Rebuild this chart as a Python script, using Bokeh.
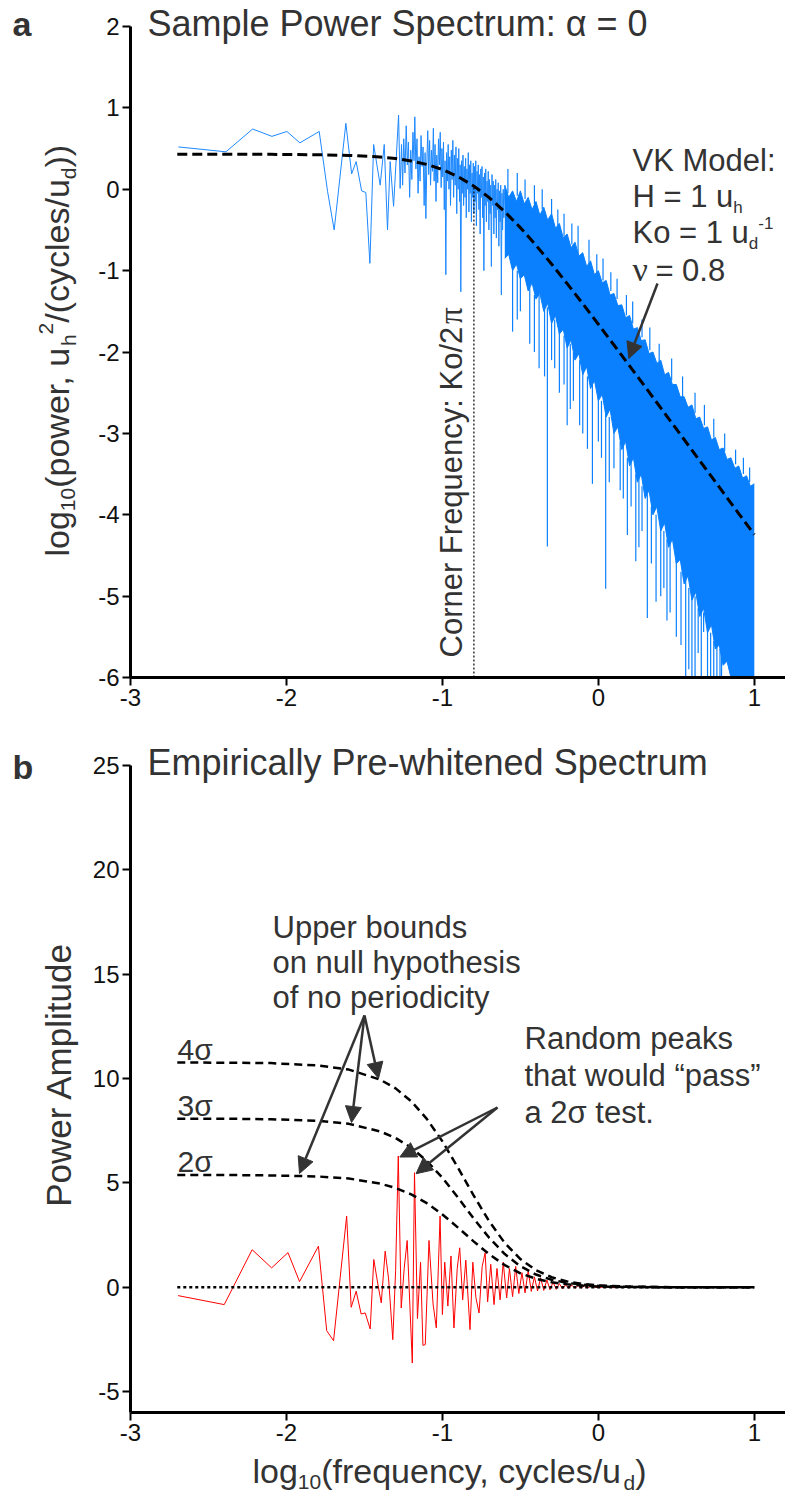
import math
from bokeh.plotting import figure
from bokeh.models import Label, Arrow, NormalHead, LinearAxis, FixedTicker, Range1d
from bokeh.layouts import column
from bokeh.embed import file_html
from bokeh.resources import INLINE

# ---------------- DATA : panel a (sample power spectrum, log10 f vs log10 power) ----------------
spec_x = [-2.693, -2.388, -2.217, -2.093, -1.997, -1.914, -1.790, -1.736, -1.694, -1.619,
          -1.582, -1.553, -1.518, -1.491, -1.465, -1.441, -1.399, -1.373, -1.352, -1.335,
          -1.313, -1.281, -1.271, -1.262, -1.255, -1.248, -1.240, -1.232, -1.225, -1.218,
          -1.210, -1.203, -1.196, -1.189, -1.182, -1.177, -1.170, -1.163, -1.156, -1.150,
          -1.143, -1.137, -1.130, -1.124, -1.117, -1.111, -1.106, -1.100, -1.094, -1.088,
          -1.082, -1.076, -1.070, -1.064, -1.058, -1.053, -1.047, -1.041, -1.036, -1.030,
          -1.025, -1.019, -1.014, -1.008, -1.003, -0.998, -0.993, -0.988, -0.983, -0.978,
          -0.973, -0.968, -0.963, -0.958, -0.953, -0.948, -0.943, -0.938, -0.933, -0.928,
          -0.923, -0.918, -0.913, -0.908, -0.904, -0.899, -0.895, -0.890, -0.886, -0.882,
          -0.877, -0.873, -0.868, -0.864, -0.860, -0.855, -0.851, -0.847, -0.843, -0.838,
          -0.834, -0.830, -0.826, -0.822, -0.818, -0.814, -0.810, -0.806, -0.802, -0.798,
          -0.794, -0.790, -0.786, -0.782, -0.778, -0.774, -0.770, -0.766, -0.762, -0.758,
          -0.754, -0.750, -0.746, -0.742, -0.738, -0.734, -0.730, -0.726, -0.722, -0.718,
          -0.714, -0.710, -0.706, -0.702, -0.698, -0.694, -0.690, -0.686, -0.682, -0.678,
          -0.674, -0.670, -0.666, -0.662, -0.658, -0.654, -0.650, -0.646, -0.642, -0.638,
          -0.634, -0.630, -0.626, -0.622, -0.618, -0.614, -0.610, -0.606, -0.602]
spec_y = [0.52, 0.46, 0.74, 0.65, 0.71, 0.57, 0.71, -0.03, -0.50, 0.81,
          0.19, 0.34, -0.02, -0.04, -0.91, 0.55, 0.05, 0.55, -0.50, 0.34,
          -0.21, 0.91, 0.01, 0.55, 0.05, 0.62, 0.20, 0.78, 0.30, 0.58,
          -0.10, 0.48, 0.12, 0.70, 0.35, 0.89, 0.25, 0.62, -0.05, 0.40,
          0.10, 0.66, 0.28, 0.52, -0.20, 0.45, -0.36, 0.30, 0.72, 0.18,
          0.60, 0.05, 0.48, 0.22, 0.75, 0.10, 0.55, -0.15, 0.42, 0.08,
          0.62, 0.30, 0.70, 0.02, 0.50, 0.15, 0.58, -0.25, 0.35, -1.05,
          0.45, 0.10, 0.55, 0.00, 0.40, -0.20, 0.48, 0.12, 0.60, -0.10,
          0.42, 0.05, 0.52, -0.30, 0.38, 0.00, 0.50, -0.15, 0.30, -1.26,
          0.35, -0.05, 0.42, -0.20, 0.28, -0.10, 0.38, -0.35, 0.25, 0.00,
          0.45, -0.28, 0.30, -0.05, 0.35, -0.40, 0.20, -0.10, 0.32, -0.30,
          0.28, -0.15, 0.35, -0.45, 0.22, -0.05, 0.30, -0.25, 0.18, -0.55,
          0.25, -0.10, 0.28, -0.35, 0.15, -1.00, 0.20, -0.20, 0.25, -0.40,
          0.10, -0.15, 0.22, -0.50, 0.12, -0.30, 0.05, -0.95, 0.18, -0.20,
          0.10, -0.55, 0.05, -0.35, 0.12, -0.60, 0.00, -0.25, 0.08, -0.70,
          -0.02, -0.40, 0.05, -1.30, -0.05, -0.50, 0.00, -0.35, -0.08]

# dense high-frequency part: upper / lower edge of the filled trace
band_x = [-0.600, -0.575, -0.550, -0.525, -0.500, -0.475, -0.450, -0.425, -0.400, -0.375,
          -0.350, -0.325, -0.300, -0.275, -0.250, -0.225, -0.200, -0.175, -0.150, -0.125,
          -0.100, -0.075, -0.050, -0.025, 0.000, 0.025, 0.050, 0.075, 0.100, 0.125,
          0.150, 0.175, 0.200, 0.225, 0.250, 0.275, 0.300, 0.325, 0.350, 0.375,
          0.400, 0.425, 0.450, 0.475, 0.500, 0.525, 0.550, 0.575, 0.600, 0.625,
          0.650, 0.675, 0.700, 0.725, 0.750, 0.775, 0.800, 0.825, 0.850, 0.875,
          0.900, 0.925, 0.950, 0.975, 1.000]
band_hi = [0.05, -0.10, -0.02, -0.15, -0.02, -0.18, -0.10, -0.25, -0.15, -0.32,
           -0.22, -0.38, -0.30, -0.48, -0.42, -0.60, -0.55, -0.72, -0.65, -0.82,
           -0.78, -0.95, -0.88, -1.05, -1.00, -1.15, -1.12, -1.30, -1.28, -1.43,
           -1.42, -1.58, -1.55, -1.72, -1.70, -1.86, -1.85, -2.02, -2.00, -2.14,
           -2.10, -2.28, -2.25, -2.40, -2.40, -2.55, -2.55, -2.68, -2.65, -2.82,
           -2.80, -2.94, -2.92, -3.08, -3.05, -3.20, -3.18, -3.32, -3.30, -3.43,
           -3.40, -3.55, -3.52, -3.65, -3.62]
band_lo = [-0.85, -0.80, -1.00, -0.92, -1.10, -1.05, -1.25, -1.15, -1.35, -1.28,
           -1.50, -1.40, -1.65, -1.55, -1.78, -1.72, -1.95, -1.85, -2.10, -2.02,
           -2.28, -2.18, -2.45, -2.35, -2.60, -2.52, -2.80, -2.70, -3.00, -2.92,
           -3.20, -3.10, -3.40, -3.30, -3.60, -3.50, -3.80, -3.70, -4.00, -3.90,
           -4.20, -4.10, -4.40, -4.30, -4.60, -4.55, -4.85, -4.75, -5.05, -4.95,
           -5.25, -5.15, -5.45, -5.35, -5.65, -5.60, -5.85, -5.80, -6.00, -6.00,
           -6.00, -6.00, -6.00, -6.00, -6.00]

# downward spikes below the dense trace
spike_x = [-0.55, -0.52, -0.50, -0.44, -0.41, -0.38, -0.345, -0.327, -0.30, -0.28,
           -0.25, -0.22, -0.20, -0.18, -0.16, -0.12, -0.10, -0.07, -0.038, 0.00,
           0.02, 0.047, 0.07, 0.10, 0.14, 0.16, 0.186, 0.21, 0.24, 0.26,
           0.28, 0.314, 0.34, 0.37, 0.40, 0.42, 0.44, 0.46, 0.50, 0.53,
           0.56, 0.58, 0.60, 0.62, 0.64, 0.66, 0.675, 0.70, 0.72, 0.74,
           0.76, 0.78, 0.79]
spike_top = [-0.95, -1.00, -1.05, -1.20, -1.30, -1.30, -1.45, -1.45, -1.60, -1.60,
             -1.75, -1.80, -1.90, -1.90, -2.00, -2.10, -2.20, -2.30, -2.40, -2.55,
             -2.60, -2.75, -2.80, -2.95, -3.10, -3.15, -3.30, -3.35, -3.50, -3.55,
             -3.65, -3.75, -3.90, -4.00, -4.15, -4.20, -4.30, -4.35, -4.55, -4.70,
             -4.80, -4.90, -5.00, -5.00, -5.15, -5.20, -5.20, -5.40, -5.45, -5.55,
             -5.60, -5.65, -5.70]
spike_bot = [-1.75, -1.60, -1.50, -1.90, -2.00, -2.20, -2.30, -4.39, -2.10, -2.20,
             -2.50, -2.40, -2.90, -2.70, -2.60, -2.90, -3.00, -3.19, -3.62, -3.10,
             -3.30, -4.91, -3.60, -3.43, -3.70, -3.80, -4.25, -3.90, -4.57, -4.40,
             -4.20, -5.27, -4.60, -5.07, -5.00, -4.90, -5.30, -5.20, -5.50, -5.60,
             -6.00, -5.90, -6.00, -6.00, -5.70, -6.00, -5.44, -6.00, -6.00, -6.00,
             -6.00, -6.00, -6.00]

# upward spikes above the dense trace
up_x = [-0.58, -0.52, -0.47, -0.41, -0.36, -0.30, -0.26, -0.22, -0.17, -0.13,
        -0.06, -0.01, 0.03, 0.08, 0.12, 0.18, 0.22, 0.28, 0.33, 0.39,
        0.47, 0.54, 0.62, 0.68, 0.74, 0.81, 0.88, 0.93, 0.97]
up_base = [-0.05, -0.08, -0.12, -0.18, -0.25, -0.32, -0.45, -0.58, -0.68, -0.80,
           -0.92, -1.02, -1.12, -1.25, -1.35, -1.55, -1.65, -1.82, -1.98, -2.12,
           -2.35, -2.55, -2.75, -2.90, -3.05, -3.22, -3.38, -3.50, -3.60]
up_top = [0.25, 0.20, 0.12, 0.05, 0.00, -0.12, -0.25, -0.30, -0.42, -0.45,
          -0.62, -0.80, -0.85, -1.02, -1.10, -1.30, -1.38, -1.60, -1.70, -1.90,
          -2.08, -2.30, -2.50, -2.65, -2.82, -3.00, -3.20, -3.30, -3.42]

# von Karman model curve (dashed)
model_x = [-2.7, -2.4, -2.1, -1.8, -1.6, -1.4, -1.3, -1.2, -1.1, -1.0, -0.9, -0.8, -0.7,
           -0.6, -0.5, -0.4, -0.3, -0.2, -0.1, 0.0, 0.1, 0.2, 0.3, 0.4, 0.5, 0.6, 0.7,
           0.8, 0.9, 1.0]
model_y = [0.430, 0.429, 0.429, 0.424, 0.416, 0.396, 0.377, 0.348, 0.305, 0.242, 0.156,
           0.041, -0.103, -0.276, -0.472, -0.689, -0.919, -1.160, -1.407, -1.659,
           -1.914, -2.170, -2.428, -2.687, -2.946, -3.206, -3.465, -3.725, -3.985, -4.245]
corner_x = [-0.798, -0.798]
corner_y = [-6.0, 0.04]

# ---------------- DATA : panel b (pre-whitened spectrum) ----------------
red_x = [-2.695, -2.399, -2.220, -2.095, -1.990, -1.916, -1.795, -1.742, -1.698, -1.614,
         -1.585, -1.553, -1.521, -1.495, -1.463, -1.440, -1.415, -1.392, -1.367, -1.345,
         -1.318, -1.300, -1.283, -1.264, -1.245, -1.226, -1.193, -1.179, -1.160, -1.140,
         -1.125, -1.110, -1.086, -1.060, -1.039, -1.015, -1.000, -0.985, -0.965, -0.945,
         -0.926, -0.905, -0.889, -0.870, -0.850, -0.823, -0.805, -0.785, -0.765, -0.745,
         -0.726, -0.710, -0.690, -0.669, -0.650, -0.630, -0.610, -0.588, -0.570, -0.550,
         -0.530, -0.510, -0.490, -0.470, -0.450, -0.430, -0.410, -0.390, -0.370, -0.350,
         -0.330, -0.310, -0.290, -0.270, -0.250, -0.230, -0.210, -0.190, -0.170, -0.150,
         -0.130, -0.110, -0.090, -0.070, -0.050, 0.000, 0.050, 0.100, 0.200, 0.300, 0.450]
red_y = [-0.40, -0.83, 1.80, 0.93, 1.66, 0.27, 1.97, -2.08, -2.56, 3.41,
         -0.96, -0.19, -1.28, -1.23, -2.00, 1.33, 0.20, -0.75, 1.73, 0.40,
         -2.51, 0.80, 6.29, -0.99, 0.90, 2.24, -3.63, 5.49, -1.50, 1.20,
         -2.78, -2.75, 2.24, -0.80, -1.95, 3.41, -1.31, 1.20, -0.90, 1.50,
         -1.95, 0.90, 1.89, -0.60, 1.30, -2.03, 1.20, -0.50, -1.23, 1.00,
         1.65, -0.70, 1.10, -0.83, 0.90, -0.60, 1.20, -0.51, 0.90, -0.45,
         1.00, -0.30, 0.70, -0.27, 0.80, -0.20, 0.50, -0.18, 0.45, -0.15,
         0.35, -0.12, 0.25, -0.10, 0.18, -0.08, 0.12, -0.06, 0.10, -0.05,
         0.08, -0.04, 0.06, -0.03, 0.05, -0.02, 0.04, -0.02, 0.02, -0.01, 0.01]
zero_x = [-2.7, 1.0]
zero_y = [0.0, 0.0]

sig_x = [-2.7, -2.4, -2.1, -1.8, -1.6, -1.4, -1.3, -1.2, -1.1, -1.0, -0.9, -0.8,
         -0.7, -0.6, -0.5, -0.4, -0.3, -0.2, -0.1, 0.0, 0.2, 0.5, 1.0]
sig2 = [5.38, 5.38, 5.36, 5.31, 5.21, 4.97, 4.76, 4.45, 4.03, 3.49, 2.86, 2.20,
        1.58, 1.06, 0.67, 0.41, 0.24, 0.14, 0.08, 0.04, 0.01, 0.0, 0.0]
sig3 = [8.08, 8.08, 8.05, 7.98, 7.83, 7.47, 7.15, 6.69, 6.05, 5.25, 4.30, 3.30,
        2.37, 1.59, 1.01, 0.61, 0.36, 0.21, 0.12, 0.07, 0.02, 0.0, 0.0]
sig4 = [10.77, 10.76, 10.74, 10.63, 10.43, 9.95, 9.53, 8.91, 8.07, 6.99, 5.73, 4.40,
        3.16, 2.12, 1.35, 0.82, 0.48, 0.28, 0.16, 0.09, 0.03, 0.0, 0.0]
peak_x = [-1.283, -1.179]
peak_y = [6.29, 5.49]

x_ticks = [-3, -2, -1, 0, 1]
ya_ticks = [-6, -5, -4, -3, -2, -1, 0, 1, 2]
yb_ticks = [-5, 0, 5, 10, 15, 20, 25]

# ---------------- styling / layout helpers ----------------
BLUE = "#0a80ff"
TXT = "#333333"
SANS = "Liberation Sans"
SERIF = "Liberation Serif"
W = {'l': .222, 'o': .556, 'g': .556, '1': .556, '0': .556, '(': .333, ')': .333, 'p': .556,
     'w': .722, 'e': .556, 'r': .333, ',': .278, ' ': .278, 'u': .556, 'h': .556, '2': .556,
     '/': .278, 'c': .5, 'y': .5, 's': .5, 'd': .556, 'f': .278, 'q': .556, 'n': .556,
     'H': .722, '=': .584, 'K': .667, '-': .333, 'V': .667, 'M': .833, ':': .278, '.': .278,
     '8': .556, 'C': .722, 'F': .611, 'a': .556, 't': .278, 'i': .222, 'm': .833}


def tw(s, F):
    return sum(W.get(c, .556) for c in s) * F


AH, BH = 725, 773          # figure heights (page px)
XL, XR = 130, 785          # axis x=-3 .. right edge (page px)
A_T, A_B = 26, 677         # panel a: y=2 .. y=-6 (page px)
B_T, B_B = 765, 1412       # panel b: y=25 .. y=-6 (page px)
XMIN, XMAX = -3.0, 1.2
KX = (XMAX - XMIN) / (XR - XL)
KA = 8.0 / (A_B - A_T)
KB = 31.0 / (B_B - B_T)


def px_x(X):
    return XMIN + (X - XL) * KX


def px_ya(Y):
    return 2 - (Y - A_T) * KA


def px_yb(Y):
    return 25 - (Y - B_T) * KB


def lab(p, panel, X, Yb, text, F, font=SANS, color=TXT, style="normal", rot=False,
        align="left"):
    # (X, Yb) = start of the text on its baseline, page pixels
    if rot:
        X = X - 0.35 * F
    else:
        Yb = Yb - 0.35 * F
    y = px_ya(Yb) if panel == "a" else px_yb(Yb)
    p.add_layout(Label(x=px_x(X), y=y, text=text, text_font=font,
                       text_font_size=f"{F}px", text_color=color, text_font_style=style,
                       angle=(math.pi / 2 if rot else 0.0), text_align=align,
                       text_baseline="middle"))


def hpieces(p, panel, X, Yb, pieces):
    for text, F, shift, font, gap in pieces:
        lab(p, panel, X, Yb + shift, text, F, font=font)
        X += tw(text, F) + gap


def vpieces(p, panel, Xb, Y, pieces):
    for text, F, shift, font, gap in pieces:
        lab(p, panel, Xb + shift, Y, text, F, font=font, rot=True)
        Y -= tw(text, F) + gap


def add_axes(p, yt, ybounds, ybottom):
    xa = LinearAxis(fixed_location=ybottom, bounds=(XMIN, XMAX), ticker=FixedTicker(ticks=x_ticks),
                    major_label_overrides={t: str(t) for t in x_ticks})
    ya = LinearAxis(fixed_location=XMIN, bounds=ybounds, ticker=FixedTicker(ticks=yt),
                    major_label_overrides={t: str(t) for t in yt})
    for ax in (xa, ya):
        ax.axis_line_width = 3
        ax.axis_line_color = "black"
        ax.major_tick_line_width = 2
        ax.major_tick_out = 8
        ax.major_tick_in = 0
        ax.minor_tick_line_color = None
        ax.major_label_text_font = SANS
        ax.major_label_text_font_size = "24px"
        ax.major_label_text_color = "#111111"
        ax.major_label_standoff = 3
    p.add_layout(xa, "below")
    p.add_layout(ya, "left")
    p.outline_line_color = None


def arrow(p, x0, y0, x1, y1):
    p.add_layout(Arrow(end=NormalHead(size=16, fill_color=TXT, line_color=TXT, line_width=1),
                       x_start=x0, y_start=y0, x_end=x1, y_end=y1,
                       line_color=TXT, line_width=2.5))


def new_fig(height, y_top, y_bottom):
    return figure(width=785, height=height, x_range=Range1d(px_x(0), px_x(785)),
                  y_range=Range1d(y_bottom, y_top), x_axis_type=None, y_axis_type=None,
                  output_backend="svg", toolbar_location=None,
                  min_border_left=0, min_border_right=0, min_border_top=0, min_border_bottom=0)


# ---------------- panel a ----------------
pa = new_fig(AH, px_ya(0), px_ya(AH))
add_axes(pa, ya_ticks, (-6, 2), -6)

pa.varea(x=band_x, y1=band_lo, y2=band_hi, fill_color=BLUE)
pa.line(band_x, band_hi, line_color=BLUE, line_width=1)
pa.line(band_x, band_lo, line_color=BLUE, line_width=1)
pa.segment(x0=spike_x, y0=spike_top, x1=spike_x, y1=spike_bot, line_color=BLUE, line_width=1.2)
pa.segment(x0=up_x, y0=up_base, x1=up_x, y1=up_top, line_color=BLUE, line_width=1.2)
pa.line(spec_x + [band_x[0]], spec_y + [band_hi[0]], line_color="#1e88ff", line_width=1)
pa.line(corner_x, corner_y, line_color="black", line_width=1.2, line_dash="2 2")
pa.line(model_x, model_y, line_color="black", line_width=3, line_dash="10 5")

lab(pa, "a", 12, 35, "a", 34, style="bold")
lab(pa, "a", 147, 36, "Sample Power Spectrum: \u03b1 = 0", 36)
vpieces(pa, "a", 68, 556, [("log", 34, 0, SANS, 0), ("10", 21, 7, SANS, 0),
                           ("(power, u", 34, 0, SANS, 0), ("h", 21, 7, SANS, 0),
                           ("2", 21, -15, SANS, 0), ("/(cycles/u", 34, 0, SANS, 0),
                           ("d", 21, 7, SANS, 0), ("))", 34, 0, SANS, 0)])
vpieces(pa, "a", 462, 657, [("Corner Frequency:  Ko/2", 31, 0, SANS, -6),
                            ("\u03c0", 33, 0, SERIF, 0)])
lab(pa, "a", 632, 171, "VK Model:", 31)
hpieces(pa, "a", 632, 207, [("H = 1 u", 31, 0, SANS, 0), ("h", 17, 6, SANS, 0)])
hpieces(pa, "a", 632, 243, [("Ko = 1 u", 31, 0, SANS, 0), ("d", 17, 6, SANS, 0),
                            ("-1", 17, -15, SANS, 0)])
hpieces(pa, "a", 632, 281, [("\u03bd", 34, 0, SERIF, 4), (" = 0.8", 31, 0, SANS, 0)])
arrow(pa, px_x(657), px_ya(283), model_x[21] - 0.005, model_y[21] + 0.09)

# ---------------- panel b ----------------
pb = new_fig(BH, px_yb(AH), px_yb(AH + BH))
add_axes(pb, yb_ticks, (-6, 25), -6)

pb.line(red_x, red_y, line_color="red", line_width=1)
pb.line(zero_x, zero_y, line_color="black", line_width=2.5, line_dash="3 3")
for s in (sig2, sig3, sig4):
    pb.line(sig_x, s, line_color="black", line_width=2.5, line_dash="8 5")

lab(pb, "b", 12, 778, "b", 34, style="bold")
lab(pb, "b", 147, 775, "Empirically Pre-whitened Spectrum", 36)
lab(pb, "b", 70, 1074, "Power Amplitude", 35, rot=True, align="center")
hpieces(pb, "b", 252, 1482, [("log", 34, 0, SANS, 0), ("10", 21, 7, SANS, 0),
                             ("(frequency, cycles/u", 34, 0, SANS, 0), ("d", 21, 7, SANS, 0),
                             (")", 34, 0, SANS, 0)])
lab(pb, "b", 272, 938, "Upper bounds", 31)
lab(pb, "b", 272, 973, "on null hypothesis", 31)
lab(pb, "b", 272, 1008, "of no periodicity", 31)
lab(pb, "b", 524, 1049, "Random peaks", 31)
lab(pb, "b", 524, 1086, "that would \u201cpass\u201d", 31)
lab(pb, "b", 524, 1123, "a 2\u03c3 test.", 31)
lab(pb, "b", 177, 1059, "4\u03c3", 30)
lab(pb, "b", 177, 1115, "3\u03c3", 30)
lab(pb, "b", 177, 1171, "2\u03c3", 30)

sx, sy = px_x(364), px_yb(1015)
arrow(pb, sx, sy, px_x(378), px_yb(1078))
arrow(pb, sx, sy, px_x(351), px_yb(1122))
arrow(pb, sx, sy, px_x(299), px_yb(1173))
rx, ry = px_x(497), px_yb(1107)
arrow(pb, rx, ry, peak_x[0] + 0.01, peak_y[0] - 0.05)
arrow(pb, rx, ry, peak_x[1] + 0.01, peak_y[1] - 0.05)

layout = column(pa, pb, spacing=0)
open("out.html", "w").write(file_html(layout, INLINE))
